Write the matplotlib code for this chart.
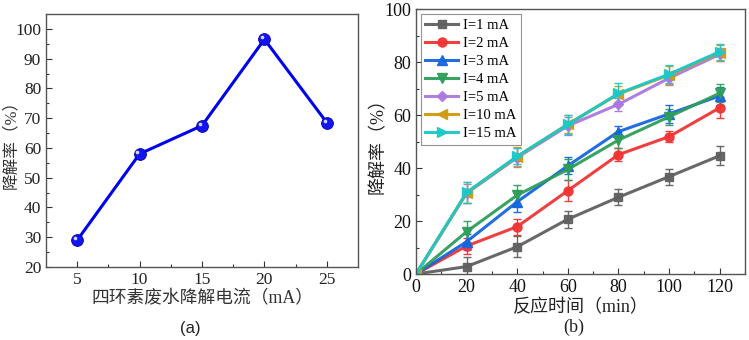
import numpy as np
import matplotlib
matplotlib.use('Agg')
import matplotlib.pyplot as plt

plt.rcParams['font.family'] = ['Liberation Serif', 'Noto Sans CJK SC']

# (a) removal rate vs current
current = [5, 10, 15, 20, 25]
rate_a = [29.0, 58.0, 67.5, 96.5, 68.5]

# (b) removal rate vs time for several currents
time = [0, 20, 40, 60, 80, 100, 120]
labels = ['I=1 mA', 'I=2 mA', 'I=3 mA', 'I=4 mA', 'I=5 mA', 'I=10 mA', 'I=15 mA']
rate_b = [
    [0, 2.8, 10.3, 20.7, 29.0, 36.8, 44.7],
    [0, 10.6, 17.9, 31.5, 45.1, 51.9, 62.8],
    [0, 12.2, 27.3, 40.9, 53.8, 60.5, 67.3],
    [0, 16.0, 29.8, 39.5, 50.6, 59.4, 68.3],
    [0, 30.5, 44.0, 56.0, 64.1, 74.0, 83.0],
    [0, 30.7, 44.3, 56.6, 68.0, 75.2, 83.6],
    [0, 30.8, 44.5, 56.5, 68.2, 75.5, 84.0],
]
err_b = [
    [0, 3.5, 4.0, 3.2, 3.0, 3.0, 3.6],
    [0, 3.0, 3.0, 4.0, 2.5, 2.0, 4.0],
    [0, 3.0, 4.0, 3.2, 2.2, 3.5, 3.5],
    [0, 4.0, 4.0, 4.0, 3.0, 3.0, 3.5],
    [0, 3.5, 3.5, 3.5, 2.5, 2.5, 2.5],
    [0, 4.0, 3.5, 3.5, 3.0, 3.5, 3.0],
    [0, 4.0, 3.0, 3.5, 4.0, 3.5, 3.0],
]
colors = ['#606060', '#f03434', '#1565e0', '#2e9e5a', '#aa78e0', '#d09a10', '#1cc8c8']
markers = ['s', 'o', '^', 'v', 'D', '<', '>']
msizes = [5.5, 6.5, 6.5, 6.5, 5.5, 6.5, 6.5]

fig = plt.figure(figsize=(7.49, 3.40), dpi=100)

spine_col = '#555555'

# ---- panel (a)
ax = fig.add_axes([0.0614, 0.2147, 0.4166, 0.7441])
ax.plot(current, rate_a, color='#0000ee', lw=2.2, zorder=2)
ax.plot(current, rate_a, ls='none', marker='o', ms=8.5, mfc='#1414f0', mec='#0000aa', mew=0.6, zorder=3)
# small highlight to mimic the shaded sphere markers
ax.plot(np.array(current) - 0.17, np.array(rate_a) + 0.7, ls='none', marker='o', ms=2.6,
        mfc='#d8d8ff', mec='none', zorder=4)
ax.set_xlim(2.5, 27.5)
ax.set_ylim(20, 105)
ax.set_xticks(current)
ax.set_xticks([7.5, 12.5, 17.5, 22.5], minor=True)
ax.set_yticks(np.arange(20, 101, 10))
ax.set_yticks(np.arange(25, 101, 10), minor=True)
ax.tick_params(which='both', direction='in', top=False, right=False, colors='#333333',
               labelsize=12.5, labelcolor='#222222')
ax.tick_params(which='major', length=4, width=0.8)
ax.tick_params(which='minor', length=2.5, width=0.8)
for s in ax.spines.values():
    s.set_color(spine_col)
    s.set_linewidth(1.0)
ax.set_ylabel('降解率（%）', fontsize=12, color='#333333')
ax.yaxis.set_label_coords(-0.085, 0.5)
ax.set_xlabel('四环素废水降解电流（mA）', fontsize=12.8, color='#333333', labelpad=2)
fig.text(0.254, 0.022, '(a)', fontsize=12, fontfamily=['Liberation Sans'], ha='center',
         color='#222222')

# ---- panel (b)
bx = fig.add_axes([0.5554, 0.1941, 0.4393, 0.7785])
for i in range(len(labels)):
    bx.errorbar(time, rate_b[i], yerr=err_b[i], color=colors[i], lw=2.2, marker=markers[i],
                ms=msizes[i], mec=colors[i], capsize=3, elinewidth=1.0, capthick=1.0,
                ecolor=colors[i], label=labels[i], alpha=0.95)
bx.set_xlim(0, 130)
bx.set_ylim(0, 100)
bx.set_xticks(np.arange(0, 121, 20))
bx.set_xticks(np.arange(10, 131, 20), minor=True)
bx.set_yticks(np.arange(0, 101, 20))
bx.set_yticks(np.arange(10, 100, 20), minor=True)
bx.tick_params(which='both', direction='in', top=False, right=False, colors='#333333',
               labelsize=13, labelcolor='#111111')
bx.tick_params(which='major', length=4, width=0.8)
bx.tick_params(which='minor', length=2.5, width=0.8)
for s in bx.spines.values():
    s.set_color(spine_col)
    s.set_linewidth(1.0)
bx.set_ylabel('降解率（%）', fontsize=13, color='#222222')
bx.yaxis.set_label_coords(-0.088, 0.5)
bx.set_xlabel('反应时间（min）', fontsize=13, color='#222222', labelpad=2)
fig.text(0.766, 0.025, '(b)', fontsize=13, ha='center', color='#222222')

handles, labs = bx.get_legend_handles_labels()
handles = [h[0] for h in handles]
leg = bx.legend(handles, labs, loc='upper left', fontsize=10.5, frameon=True, fancybox=False,
                edgecolor='#777777', handlelength=2.2, handletextpad=0.35, labelspacing=0.33,
                borderpad=0.3, borderaxespad=0.35)
leg.get_frame().set_linewidth(0.8)

fig.savefig('out.png', dpi=100)
